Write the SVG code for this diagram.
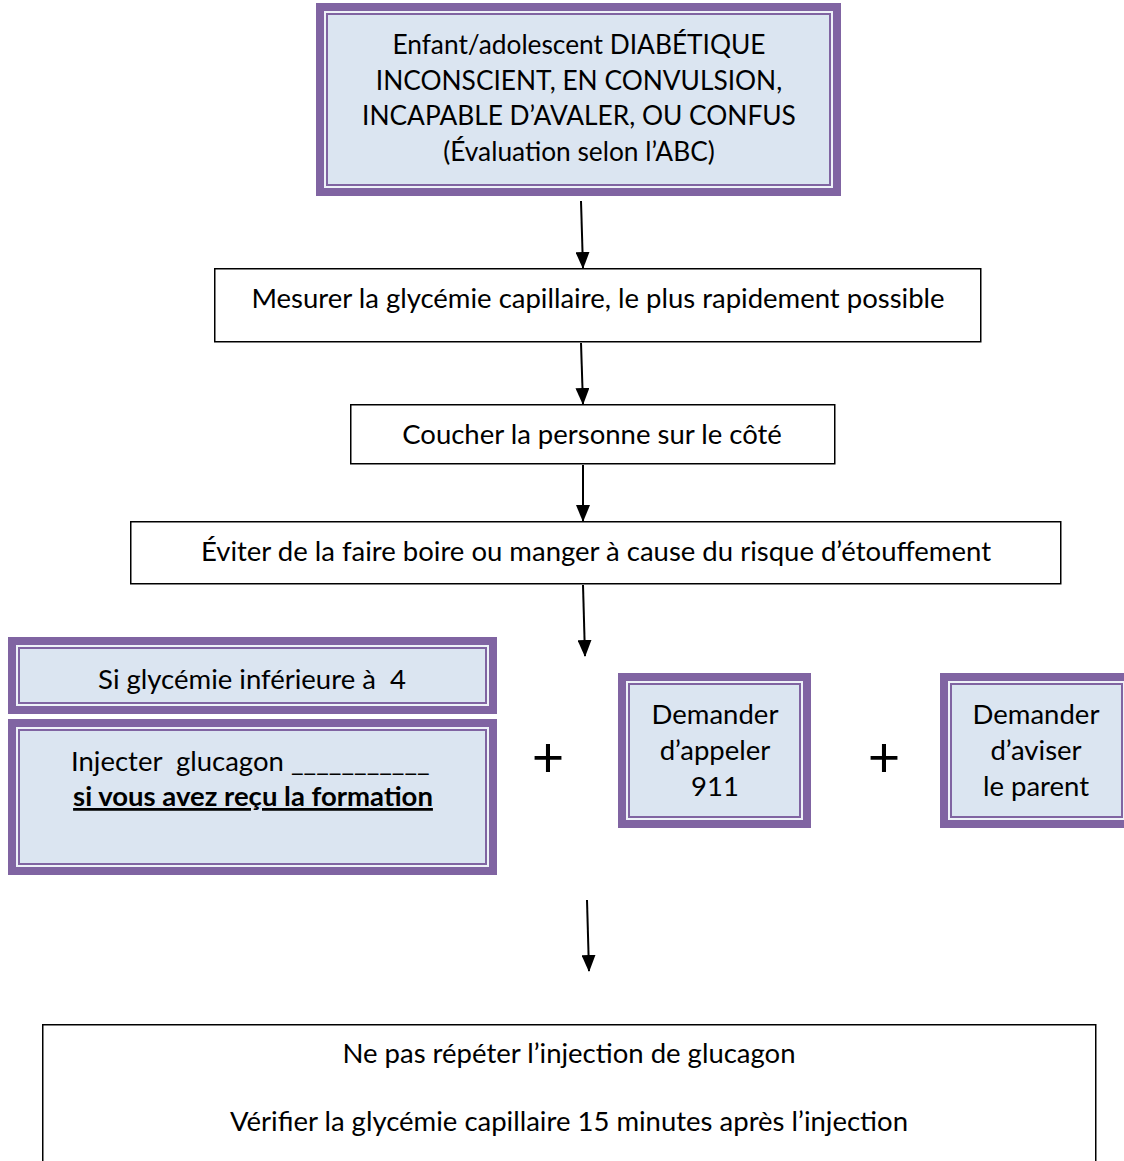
<svg xmlns="http://www.w3.org/2000/svg" width="1124" height="1161" viewBox="0 0 1124 1161">
<style>
.bg{fill:#FFFFFF}
.outer{fill:#DBE5F1;stroke:#8064A2;stroke-width:8}
.stripe{fill:none;stroke:#EEF2F8;stroke-width:2}
.inner{fill:none;stroke:#8064A2;stroke-width:2}
.plain{fill:#FFFFFF;stroke:#000000;stroke-width:1.5}
.t{font-family:Lato,"Liberation Sans",sans-serif;font-size:27.5px;fill:#000000;text-anchor:middle}
.tt{font-size:26.3px}
.s{text-anchor:start}
.b{font-weight:bold;text-decoration:underline}
.plus{font-family:Lato,"Liberation Sans",sans-serif;font-size:56px;fill:#000000;text-anchor:middle}
.conn{stroke:#000000;stroke-width:2;fill:none;marker-end:url(#ah)}
</style>
<defs>
<marker id="ah" markerWidth="17" markerHeight="14" refX="16" refY="7" orient="auto" markerUnits="userSpaceOnUse" viewBox="0 0 17 14">
<path d="M0,0 L17,7 L0,14 Z" fill="#000000"/>
</marker>
</defs>
<rect class="bg" x="0" y="0" width="1124" height="1161"/>

<g id="node-top">
<rect class="outer" x="320" y="7" width="517" height="185"/>
<rect class="stripe" x="325" y="12" width="507" height="175"/>
<rect class="inner" x="327" y="14" width="503" height="171"/>
<text class="t tt" x="579" y="54">Enfant/adolescent DIABÉTIQUE</text>
<text class="t tt" x="579" y="90">INCONSCIENT, EN CONVULSION,</text>
<text class="t tt" x="579" y="125">INCAPABLE D’AVALER, OU CONFUS</text>
<text class="t tt" x="579" y="161">(Évaluation selon l’ABC)</text>
</g>

<g id="node-mesurer">
<rect class="plain" x="214.75" y="268.75" width="766" height="73"/>
<text class="t" x="598" y="308">Mesurer la glycémie capillaire, le plus rapidement possible</text>
</g>

<g id="node-coucher">
<rect class="plain" x="350.75" y="404.75" width="484" height="59"/>
<text class="t" x="592" y="444">Coucher la personne sur le côté</text>
</g>

<g id="node-eviter">
<rect class="plain" x="130.75" y="521.75" width="930" height="62"/>
<text class="t" x="596" y="561">Éviter de la faire boire ou manger à cause du risque d’étouffement</text>
</g>

<g id="node-si">
<rect class="outer" x="12" y="641" width="481" height="69"/>
<rect class="stripe" x="17" y="646" width="471" height="59"/>
<rect class="inner" x="19" y="648" width="467" height="55"/>
<text class="t" x="252" y="689" xml:space="preserve">Si glycémie inférieure à  4</text>
</g>

<g id="node-injecter">
<rect class="outer" x="12" y="723" width="481" height="148"/>
<rect class="stripe" x="17" y="728" width="471" height="138"/>
<rect class="inner" x="19" y="730" width="467" height="134"/>
<text class="t s" x="71" y="771" xml:space="preserve">Injecter  glucagon ___________</text>
<text class="t b" x="253" y="806">si vous avez reçu la formation</text>
</g>

<g id="node-911">
<rect class="outer" x="622" y="677" width="185" height="147"/>
<rect class="stripe" x="627" y="682" width="175" height="137"/>
<rect class="inner" x="629" y="684" width="171" height="133"/>
<text class="t" x="715" y="724">Demander</text>
<text class="t" x="715" y="760">d’appeler</text>
<text class="t" x="715" y="796">911</text>
</g>

<g id="node-parent">
<rect class="outer" x="944" y="677" width="185" height="147"/>
<rect class="stripe" x="949" y="682" width="175" height="137"/>
<rect class="inner" x="951" y="684" width="171" height="133"/>
<text class="t" x="1036" y="724">Demander</text>
<text class="t" x="1036" y="760">d’aviser</text>
<text class="t" x="1036" y="796">le parent</text>
</g>

<g id="node-plus1"><text class="plus" x="548" y="777">+</text></g>
<g id="node-plus2"><text class="plus" x="884" y="777">+</text></g>

<g id="node-bottom">
<rect class="plain" x="42.75" y="1024.75" width="1053" height="150"/>
<text class="t" x="569" y="1063">Ne pas répéter l’injection de glucagon</text>
<text class="t" x="569" y="1131">Vérifier la glycémie capillaire 15 minutes après l’injection</text>
</g>

<g id="connectors">
<line class="conn" x1="581" y1="201" x2="583" y2="268"/>
<line class="conn" x1="581" y1="343" x2="583" y2="404"/>
<line class="conn" x1="583" y1="465" x2="583" y2="521"/>
<line class="conn" x1="583" y1="585" x2="585" y2="656"/>
<line class="conn" x1="587" y1="900" x2="589" y2="971"/>
</g>
</svg>
